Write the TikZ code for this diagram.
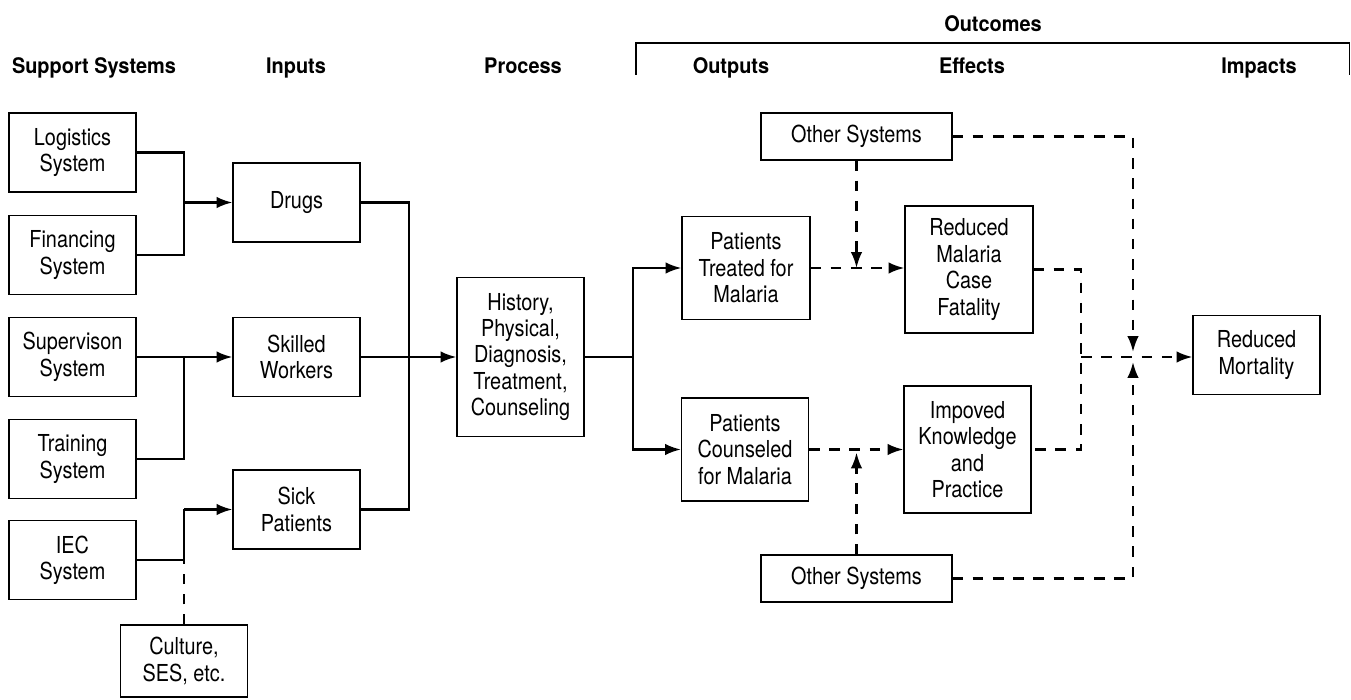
\documentclass[tikz,border=0pt]{standalone}
\usepackage{fontspec}
\setmainfont{TeX Gyre Heros}[FakeStretch=0.85]
\newfontfamily\headfont{TeX Gyre Heros}[FakeStretch=0.93]
\usetikzlibrary{arrows.meta}

\tikzset{
  box/.style={draw, line width=0.6pt, align=center, inner sep=2pt, font=\fontsize{13.3}{15}\selectfont},
  sys/.style={box, minimum width=2.54cm, minimum height=1.58cm},
  head/.style={anchor=base, font=\headfont\bfseries\fontsize{12.2}{15}\selectfont},
  link/.style={line width=1.35pt},
  flow/.style={link, -{Latex[length=9pt,width=6.5pt]}},
  other/.style={link, dash pattern=on 6pt off 5.5pt},
  otherflow/.style={other, -{Latex[length=9pt,width=6.5pt]}}
}

\begin{document}
\begin{tikzpicture}[x=0.2mm, y=-0.2mm]
  \useasboundingbox (0,0) rectangle (1351,700);

  \node[head] (SupportHead) at (94,74) {Support Systems};
  \node[head] (InputsHead) at (296,74) {Inputs};
  \node[head] (ProcessHead) at (523,74) {Process};
  \node[head] (OutputsHead) at (731,74) {Outputs};
  \node[head] (EffectsHead) at (972,74) {Effects};
  \node[head] (ImpactsHead) at (1259,74) {Impacts};
  \node[head] (OutcomesHead) at (993,32) {Outcomes};
  \draw[line width=0.7pt] (636,75) -- (636,43) -- (1349.5,43) -- (1349.5,75);

  \node[sys] (Logistics) at (72.5,152.5) {Logistics\\System};
  \node[sys] (Financing) at (72.5,255) {Financing\\System};
  \node[sys] (Supervision) at (72.5,357) {Supervison\\System};
  \node[sys] (Training) at (72.5,459) {Training\\System};
  \node[sys] (IEC) at (72.5,560) {IEC\\System};
  \node[sys, minimum height=1.44cm] (Culture) at (184,661) {Culture,\\SES, etc.};

  \node[sys] (Drugs) at (296.5,202.5) {Drugs};
  \node[sys] (Workers) at (296.5,357) {Skilled\\Workers};
  \node[sys] (Sick) at (296.5,509.5) {Sick\\Patients};

  \node[box, minimum width=2.54cm, minimum height=3.18cm] (Process) at (520.5,357)
    {History,\\Physical,\\Diagnosis,\\Treatment,\\Counseling};

  \node[box, minimum width=2.56cm, minimum height=2.05cm] (Treated) at (746,268) {Patients\\Treated for\\Malaria};
  \node[box, minimum width=2.54cm, minimum height=2.06cm] (Counseled) at (745,449.5) {Patients\\Counseled\\for Malaria};
  \node[box, minimum width=3.82cm, minimum height=0.94cm] (OtherTop) at (856.5,136.5) {Other Systems};
  \node[box, minimum width=3.82cm, minimum height=0.94cm] (OtherBottom) at (856.5,578.5) {Other Systems};
  \node[box, minimum width=2.56cm, minimum height=2.54cm] (Fatality) at (969,269.5) {Reduced\\Malaria\\Case\\Fatality};
  \node[box, minimum width=2.54cm, minimum height=2.54cm] (Knowledge) at (967.5,449.5) {Impoved\\Knowledge\\and\\Practice};
  \node[sys] (Mortality) at (1256.5,355) {Reduced\\Mortality};

  \coordinate (JoinDrugs) at (184,202.5);
  \draw[link] (Logistics.east) -| (JoinDrugs) |- (Financing.east);
  \draw[flow] (JoinDrugs) -- (Drugs.west);

  \coordinate (JoinWorkers) at (184,357);
  \draw[flow] (Supervision.east) -- (Workers.west);
  \draw[link] (Training.east) -| (JoinWorkers);

  \coordinate (JoinSick) at (184,509.5);
  \draw[link] (IEC.east) -| (JoinSick);
  \draw[flow] (JoinSick) -- (Sick.west);
  \draw[other] (Culture.north) -- (Culture.north |- IEC.east);

  \coordinate (JoinInputs) at (409,357);
  \draw[link] (Drugs.east) -| (JoinInputs) |- (Sick.east);
  \draw[flow] (Workers.east) -- (Process.west);

  \coordinate (JoinProcess) at (633,357);
  \draw[link] (Process.east) -- (JoinProcess);
  \draw[flow] (JoinProcess) |- (Treated.west);
  \draw[flow] (JoinProcess) |- (Counseled.west);

  \draw[otherflow] (Treated.east) -- (Treated.east -| Fatality.west);
  \draw[otherflow] (OtherTop.south) -- (OtherTop.south |- Treated.east);
  \draw[otherflow] (Counseled.east) -- (Knowledge.west);
  \draw[otherflow, shorten >=0.6mm] (OtherBottom.north) -- (OtherBottom.north |- Counseled.east);

  \coordinate (JoinEffects) at (1081,357);
  \coordinate (JoinOther) at (1133,357);
  \draw[other] (Fatality.east) -| (JoinEffects) |- (Knowledge.east);
  \draw[otherflow] (JoinEffects) -- (JoinEffects -| Mortality.west);
  \draw[otherflow, shorten >=1mm] (OtherTop.east) -| (JoinOther);
  \draw[otherflow, shorten >=1mm] (OtherBottom.east) -| (JoinOther);
\end{tikzpicture}
\end{document}
